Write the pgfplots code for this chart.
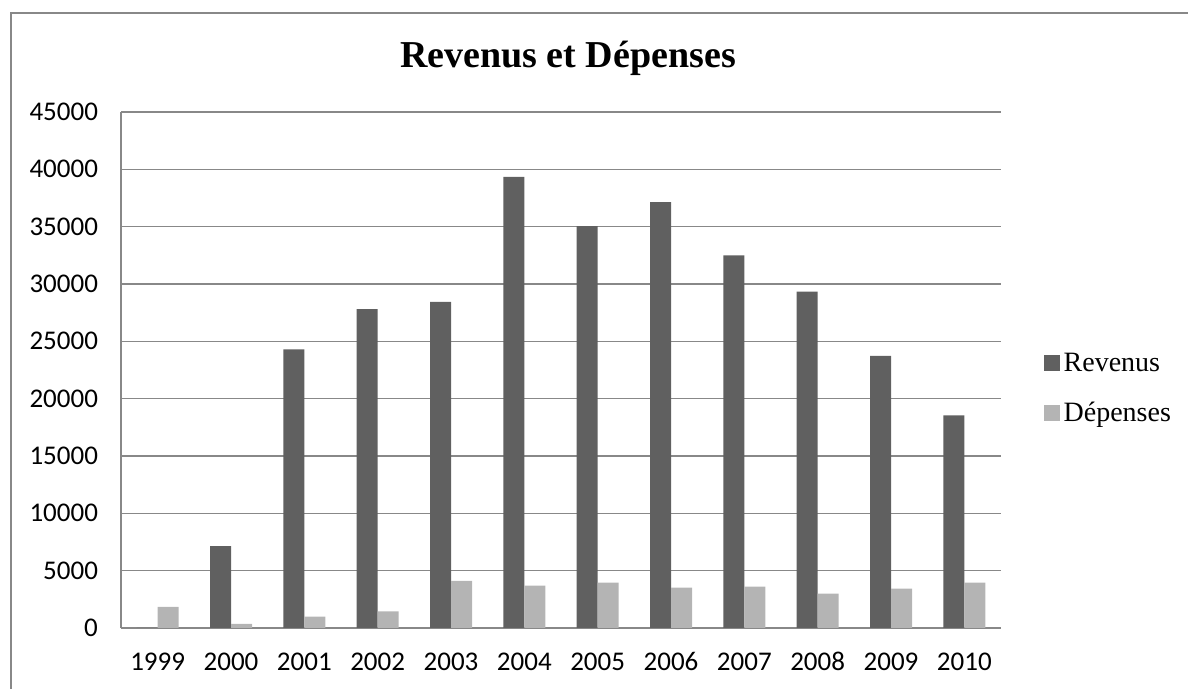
\documentclass[border=0pt]{standalone}
\usepackage{fontspec}
\setmainfont{Liberation Serif}
\newfontfamily\carlito{Carlito}
\usepackage{pgfplots}
\pgfplotsset{compat=1.18}

\definecolor{rev}{RGB}{96,96,96}
\definecolor{dep}{RGB}{180,180,180}
\definecolor{gridc}{RGB}{136,136,136}

\begin{document}
\begin{tikzpicture}
\path[use as bounding box] (0,0) rectangle (594pt,344.5pt);
% frame of the chart area (left and top edges visible)
\draw[gridc, line width=0.7pt] (5.5pt,0) -- (5.5pt,338pt) -- (594pt,338pt);

\node[anchor=base, font=\fontsize{19}{22}\selectfont\bfseries] at (284pt,310.5pt) {Revenus et Dépenses};

\begin{axis}[
    at={(60.5pt,30.5pt)}, anchor=south west,
    scale only axis,
    width=440pt, height=258pt,
    ybar=0pt, bar width=10.5pt,
    xmin=-0.5, xmax=11.5,
    ymin=0, ymax=45000,
    xtick=data,
    xticklabels={1999,2000,2001,2002,2003,2004,2005,2006,2007,2008,2009,2010},
    ytick={0,5000,...,45000},
    scaled y ticks=false,
    /pgf/number format/.cd, 1000 sep={}, assume math mode=true,
    /pgfplots/.cd,
    major tick length=0pt,
    axis x line*=bottom, axis y line*=left,
    axis line style={gridc, line width=0.65pt, -},
    ymajorgrids, grid style={gridc, line width=0.65pt},
    tick label style={font=\carlito\fontsize{13.5}{16}\selectfont},
    yticklabel style={xshift=-8pt},
    xticklabel style={yshift=-9pt, text height=8.6pt, text depth=0pt},
    legend style={at={(1.048,0.464)}, anchor=west, draw=none, fill=none,
        font=\fontsize{14}{16}\selectfont, row sep=10pt, inner sep=0pt},
    legend cell align=left,
    legend image code/.code={\fill[#1] (0pt,-4pt) rectangle (8pt,4pt);},
    /tikz/every even column/.append style={column sep=1.5pt},
]
\addplot[fill=rev, draw=none] coordinates {
    (0,0) (1,7150) (2,24300) (3,27800) (4,28450) (5,39350)
    (6,35050) (7,37150) (8,32500) (9,29330) (10,23730) (11,18550)};
\addlegendentry{Revenus}
\addplot[fill=dep, draw=none] coordinates {
    (0,1850) (1,350) (2,1000) (3,1450) (4,4120) (5,3700)
    (6,3950) (7,3520) (8,3600) (9,3000) (10,3430) (11,3950)};
\addlegendentry{Dépenses}
\end{axis}
\end{tikzpicture}
\end{document}
